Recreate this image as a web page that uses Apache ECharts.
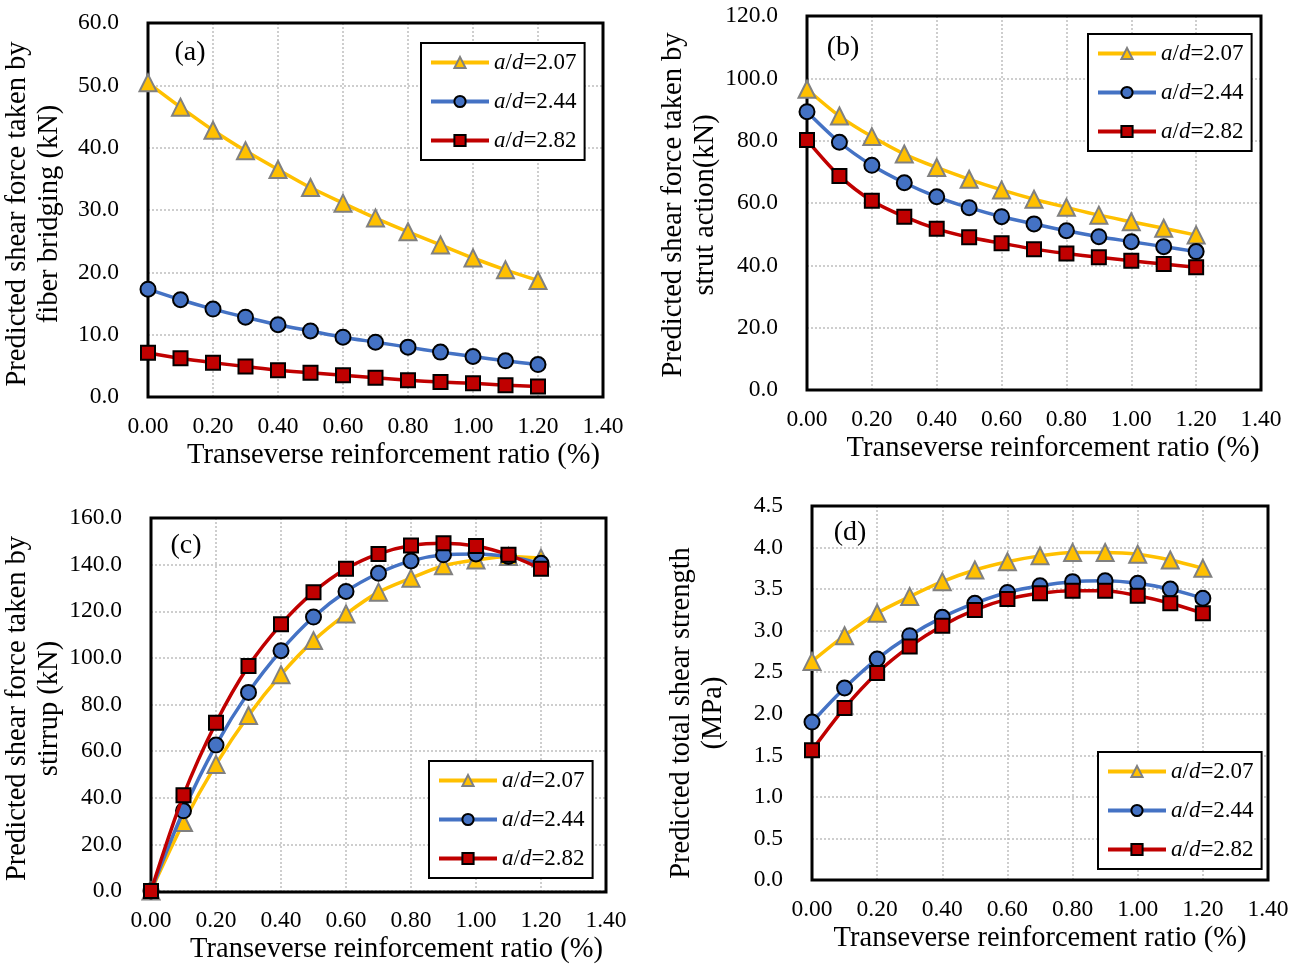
<!DOCTYPE html>
<html>
<head>
<meta charset="utf-8">
<script src="https://cdn.jsdelivr.net/npm/echarts@6/dist/echarts.min.js"></script>
<style>
html,body{margin:0;padding:0;background:#fff;}
#chart{width:1298px;height:965px;}
</style>
</head>
<body>
<div id="chart"></div>
<script>
// ---- DATA ----
const ratios = [0.0, 0.1, 0.2, 0.3, 0.4, 0.5, 0.6, 0.7, 0.8, 0.9, 1.0, 1.1, 1.2];
const seriesNames = ['a/d=2.07', 'a/d=2.44', 'a/d=2.82'];
const panelLabels = ['(a)', '(b)', '(c)', '(d)'];
const xTitle = 'Transeverse reinforcement ratio (%)';
const yTitles = [
  'Predicted shear force taken by\nfiber bridging (kN)',
  'Predicted shear force taken by\nstrut action(kN)',
  'Predicted shear force taken by\nstirrup (kN)',
  'Predicted total shear strength\n(MPa)'
];
const yMax = [60, 120, 160, 4.5];
const yStep = [10, 20, 20, 0.5];

// (a) fiber bridging
const fiber207 = [50.4, 46.5, 42.8, 39.5, 36.5, 33.6, 31.1, 28.7, 26.5, 24.4, 22.3, 20.4, 18.7];
const fiber244 = [17.3, 15.6, 14.1, 12.8, 11.6, 10.6, 9.6, 8.8, 8.0, 7.2, 6.5, 5.8, 5.2];
const fiber282 = [7.1, 6.2, 5.5, 4.9, 4.3, 3.9, 3.5, 3.1, 2.7, 2.4, 2.2, 1.9, 1.7];
// (b) strut action
const strut207 = [96.5, 87.9, 81.3, 75.7, 71.4, 67.6, 64.2, 61.2, 58.6, 56.1, 54.0, 51.9, 49.7];
const strut244 = [89.3, 79.5, 72.1, 66.5, 62.0, 58.5, 55.6, 53.3, 51.1, 49.2, 47.6, 46.0, 44.4];
const strut282 = [80.2, 68.7, 60.7, 55.6, 51.7, 49.0, 47.1, 45.2, 43.8, 42.6, 41.5, 40.4, 39.4];
// (c) stirrup
const stirrup207 = [0.0, 29.4, 54.3, 75.3, 92.8, 107.4, 118.8, 128.2, 134.2, 139.5, 142.0, 143.5, 142.8];
const stirrup244 = [0.0, 34.4, 62.6, 85.2, 103.1, 117.5, 128.5, 136.3, 141.6, 144.2, 144.6, 143.5, 140.6];
const stirrup282 = [0.0, 41.1, 72.2, 96.5, 114.4, 128.2, 138.2, 144.6, 148.2, 149.2, 148.0, 144.2, 138.2];
// (d) total shear strength
const total207 = [2.63, 2.94, 3.21, 3.41, 3.59, 3.73, 3.83, 3.90, 3.94, 3.94, 3.92, 3.85, 3.75];
const total244 = [1.90, 2.31, 2.66, 2.94, 3.16, 3.33, 3.46, 3.54, 3.59, 3.60, 3.57, 3.50, 3.39];
const total282 = [1.56, 2.07, 2.49, 2.81, 3.06, 3.25, 3.38, 3.45, 3.48, 3.48, 3.42, 3.33, 3.21];

const panelData = [
  [fiber207, fiber244, fiber282],
  [strut207, strut244, strut282],
  [stirrup207, stirrup244, stirrup282],
  [total207, total244, total282]
];

// ---- LAYOUT / STYLE ----
const FONT = '"Liberation Serif", "Times New Roman", serif';
const grids = [
  {left: 148, top: 23, width: 455, height: 374},
  {left: 807, top: 16, width: 454, height: 374},
  {left: 151, top: 518, width: 455, height: 374},
  {left: 812, top: 506, width: 456, height: 374}
];
const xNamePad = [[0, 0, 0, 36], [0, 0, 0, 38], [0, 0, 0, 36], [0, 0, 0, 0]];
const yNamePad = [[0, 8, 0, 0], [0, 4, 0, 0], [0, 8, 0, 0], [0, 40, 0, 0]];
const legendPos = [
  {left: 421, top: 43},
  {left: 1088, top: 34},
  {left: 429, top: 761},
  {left: 1098, top: 752}
];
const labelPos = [[190, 53], [843, 48], [186, 546], [850, 533]];
const styles = [
  {line: '#FFC000', fill: '#FFC000', border: '#808080', symbol: 'triangle', size: 17},
  {line: '#4472C4', fill: '#4472C4', border: '#000000', symbol: 'circle', size: 15},
  {line: '#C00000', fill: '#C00000', border: '#000000', symbol: 'rect', size: 14}
];
const splitLine = {show: true, lineStyle: {color: '#BFBFBF', type: [2, 2], width: 1.5}};

const option = {
  animation: false,
  backgroundColor: '#fff',
  grid: grids.map(g => Object.assign({show: false, containLabel: false}, g)),
  xAxis: grids.map((g, i) => ({
    type: 'value', gridIndex: i, min: 0, max: 1.4, interval: 0.2,
    axisLine: {show: false}, axisTick: {show: false},
    axisLabel: {color: '#000', fontFamily: FONT, fontSize: 23.5, margin: 18, formatter: v => v.toFixed(2)},
    splitLine: splitLine,
    name: xTitle, nameLocation: 'middle', nameGap: 44,
    nameTextStyle: {color: '#000', fontFamily: FONT, fontSize: 28.5, padding: xNamePad[i]}
  })),
  yAxis: grids.map((g, i) => ({
    type: 'value', gridIndex: i, min: 0, max: yMax[i], interval: yStep[i],
    axisLine: {show: false}, axisTick: {show: false},
    axisLabel: {color: '#000', fontFamily: FONT, fontSize: 23.5, margin: 29, formatter: v => v.toFixed(1)},
    splitLine: splitLine,
    name: yTitles[i], nameLocation: 'middle', nameGap: 82, nameRotate: 90,
    nameTextStyle: {color: '#000', fontFamily: FONT, fontSize: 28.5, lineHeight: 32, padding: yNamePad[i]}
  })),
  legend: legendPos.map((p, i) => ({
    left: p.left, top: p.top, orient: 'vertical',
    data: seriesNames,
    selectedMode: false,
    backgroundColor: '#fff', borderColor: '#000', borderWidth: 2,
    padding: [8, 8, 8, 8], itemGap: 16, itemWidth: 58, itemHeight: 14,
    lineStyle: {width: 4},
    formatter: name => '{i|a}/{i|d}' + name.slice(3),
    textStyle: {color: '#000', fontFamily: FONT, fontSize: 23,
      rich: {i: {fontStyle: 'italic', fontFamily: FONT, fontSize: 23, color: '#000'}}}
  })),
  graphic: grids.map(g => ({
    type: 'rect', z: 1,
    shape: {x: g.left, y: g.top, width: g.width, height: g.height},
    style: {fill: null, stroke: '#000', lineWidth: 3}
  })).concat(labelPos.map((p, i) => ({
    type: 'text', x: p[0], y: p[1], z: 10,
    style: {text: panelLabels[i], font: '28px ' + FONT, fill: '#000', align: 'center', verticalAlign: 'middle'}
  }))),
  series: []
};

panelData.forEach((arrs, pi) => {
  arrs.forEach((vals, si) => {
    const st = styles[si];
    option.series.push({
      type: 'line', name: seriesNames[si], xAxisIndex: pi, yAxisIndex: pi,
      data: ratios.map((r, k) => [r, vals[k]]),
      smooth: 0.3, clip: false,
      symbol: st.symbol, symbolSize: st.size,
      lineStyle: {color: st.line, width: 3.5},
      itemStyle: {color: st.fill, borderColor: st.border, borderWidth: 2},
      z: 3 + si
    });
  });
});

const chart = echarts.init(document.getElementById('chart'), null, {renderer: 'canvas'});
chart.setOption(option);
</script>
</body>
</html>
